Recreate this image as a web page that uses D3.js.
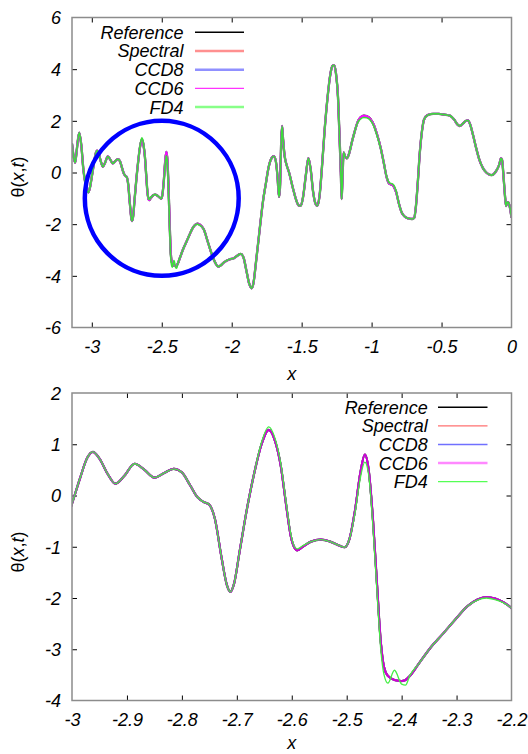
<!DOCTYPE html>
<html>
<head>
<meta charset="utf-8">
<script src="https://cdn.jsdelivr.net/npm/d3@7"></script>
<style>
  body { margin: 0; background: #fff; }
  svg { display: block; font-family: "Liberation Sans", Arial, sans-serif; }
  .tick text { font-style: italic; font-size: 18px; fill: #000; }
  .tick line { stroke: #000; stroke-width: 1; }
</style>
</head>
<body>
<svg id="chart" width="528" height="754"></svg>
<script>
const xValues = [
  -3.1416, -3.130, -3.119, -3.108, -3.090, -3.075, -3.060, -3.045, -3.025, -3.012,
  -3.000, -2.985, -2.972, -2.962, -2.950, -2.935, -2.921, -2.905, -2.886, -2.868,
  -2.850, -2.832, -2.815, -2.800, -2.785, -2.772, -2.760, -2.751, -2.740, -2.728,
  -2.718, -2.712, -2.705, -2.695, -2.681, -2.668, -2.655, -2.642, -2.630, -2.620,
  -2.610, -2.602, -2.595, -2.590, -2.580, -2.565, -2.547, -2.530, -2.515, -2.504,
  -2.495, -2.485, -2.475, -2.467, -2.460, -2.452, -2.445, -2.438, -2.432, -2.425,
  -2.413, -2.400, -2.393, -2.385, -2.370, -2.346, -2.325, -2.304, -2.279, -2.262,
  -2.246, -2.230, -2.215, -2.200, -2.170, -2.140, -2.115, -2.097, -2.080, -2.060,
  -2.037, -2.010, -1.989, -1.960, -1.935, -1.915, -1.895, -1.875, -1.858, -1.845,
  -1.825, -1.800, -1.775, -1.755, -1.740, -1.720, -1.699, -1.685, -1.672, -1.662,
  -1.655, -1.646, -1.640, -1.633, -1.622, -1.608, -1.590, -1.565, -1.540, -1.520,
  -1.506, -1.490, -1.470, -1.452, -1.435, -1.418, -1.400, -1.388, -1.372, -1.355,
  -1.335, -1.315, -1.295, -1.280, -1.268, -1.255, -1.240, -1.228, -1.220, -1.214,
  -1.208, -1.200, -1.190, -1.177, -1.160, -1.140, -1.120, -1.100, -1.080, -1.055,
  -1.035, -1.010, -0.985, -0.960, -0.935, -0.912, -0.894, -0.875, -0.847, -0.825,
  -0.805, -0.785, -0.760, -0.735, -0.710, -0.695, -0.683, -0.670, -0.655, -0.640,
  -0.625, -0.600, -0.560, -0.520, -0.480, -0.440, -0.410, -0.385, -0.370, -0.350,
  -0.325, -0.311, -0.295, -0.275, -0.255, -0.230, -0.205, -0.180, -0.160, -0.144,
  -0.125, -0.105, -0.088, -0.075, -0.068, -0.055, -0.045, -0.038, -0.030, -0.024,
  -0.016, -0.008, 0.000
];

const referenceValues = [
  1.12, 0.62, 0.38, 0.85, 1.54, 1.05, 0.10, -0.45, -0.77, -0.55,
  -0.16, 0.35, 0.74, 0.85, 0.72, 0.42, 0.23, 0.38, 0.62, 0.50,
  0.35, 0.44, 0.52, 0.45, 0.20, -0.03, -0.13, -0.17, -0.45, -1.20,
  -1.75, -1.88, -1.72, -1.10, -0.23, 0.45, 1.00, 1.28, 1.05, 0.58,
  -0.20, -0.78, -1.02, -1.07, -1.00, -0.90, -0.86, -0.90, -0.97, -1.01,
  -0.85, -0.30, 0.45, 0.80, 0.50, -0.50, -1.70, -2.85, -3.35, -3.52,
  -3.60, -3.62, -3.60, -3.52, -3.30, -2.95, -2.70, -2.44, -2.15, -2.03,
  -1.98, -2.01, -2.08, -2.20, -2.70, -3.20, -3.52, -3.64, -3.60, -3.50,
  -3.42, -3.35, -3.33, -3.22, -3.15, -3.30, -3.80, -4.30, -4.48, -4.30,
  -3.40, -2.20, -1.06, -0.40, 0.10, 0.50, 0.63, 0.45, -0.20, -0.95,
  -0.60, 1.20, 1.80, 1.30, 0.65, 0.30, 0.00, -0.55, -1.05, -1.28,
  -1.28, -0.95, -0.10, 0.56, 0.10, -0.75, -1.22, -1.29, -0.90, 0.20,
  1.70, 2.90, 3.80, 4.12, 4.16, 3.85, 2.90, 1.20, 0.00, -1.03,
  -0.20, 0.78, 0.62, 0.55, 0.75, 1.20, 1.60, 1.95, 2.13, 2.20,
  2.18, 2.08, 1.85, 1.45, 0.95, 0.35, -0.15, -0.42, -0.50, -0.75,
  -1.20, -1.55, -1.72, -1.78, -1.80, -1.75, -1.30, -0.40, 0.80, 1.60,
  2.05, 2.22, 2.27, 2.27, 2.24, 2.20, 2.05, 1.85, 1.80, 1.88,
  2.00, 2.02, 1.85, 1.45, 1.00, 0.50, 0.18, 0.00, -0.08, -0.10,
  -0.05, 0.10, 0.30, 0.55, 0.50, -0.30, -1.00, -1.30, -1.15, -1.15,
  -1.25, -1.45, -1.75
];

// Spectral, CCD8 and CCD6 lie on the reference curve at this resolution
const spectralValues = referenceValues;
const ccd8Values = referenceValues;
const ccd6Values = referenceValues;

const fd4Values = [
  1.12, 0.62, 0.38, 0.85, 1.54, 1.05, 0.10, -0.45, -0.77, -0.55,
  -0.16, 0.35, 0.74, 0.85, 0.72, 0.42, 0.23, 0.38, 0.62, 0.50,
  0.35, 0.44, 0.52, 0.45, 0.20, -0.03, -0.13, -0.17, -0.45, -1.20,
  -1.75, -1.88, -1.72, -1.10, -0.23, 0.45, 1.04, 1.34, 1.10, 0.62,
  -0.15, -0.74, -1.00, -1.04, -0.98, -0.90, -0.86, -0.90, -0.97, -1.01,
  -0.85, -0.35, 0.35, 0.65, 0.40, -0.65, -1.85, -3.00, -3.50, -3.66,
  -3.41, -3.68, -3.70, -3.51, -3.30, -2.95, -2.70, -2.44, -2.15, -2.04,
  -2.00, -2.03, -2.09, -2.20, -2.70, -3.20, -3.52, -3.64, -3.60, -3.50,
  -3.42, -3.35, -3.33, -3.22, -3.15, -3.30, -3.80, -4.30, -4.48, -4.30,
  -3.40, -2.20, -1.06, -0.40, 0.10, 0.50, 0.63, 0.45, -0.20, -0.95,
  -0.60, 1.20, 1.80, 1.30, 0.65, 0.30, 0.00, -0.55, -1.05, -1.28,
  -1.28, -0.95, -0.10, 0.56, 0.10, -0.75, -1.22, -1.29, -0.90, 0.20,
  1.70, 2.90, 3.80, 4.12, 4.16, 3.85, 2.90, 1.20, 0.00, -1.03,
  -0.20, 0.78, 0.62, 0.55, 0.75, 1.20, 1.60, 1.93, 2.07, 2.13,
  2.12, 2.03, 1.81, 1.42, 0.93, 0.35, -0.13, -0.39, -0.46, -0.72,
  -1.20, -1.55, -1.72, -1.78, -1.80, -1.75, -1.30, -0.40, 0.80, 1.60,
  2.05, 2.22, 2.27, 2.27, 2.24, 2.20, 2.05, 1.85, 1.80, 1.88,
  2.00, 2.02, 1.85, 1.45, 1.00, 0.50, 0.18, 0.00, -0.08, -0.10,
  -0.05, 0.10, 0.30, 0.55, 0.50, -0.30, -1.00, -1.30, -1.15, -1.15,
  -1.25, -1.45, -1.75
];

const seriesNames = ['Reference', 'Spectral', 'CCD8', 'CCD6', 'FD4'];
const seriesValues = [referenceValues, spectralValues, ccd8Values, ccd6Values, fd4Values];

// Tick values
const topXTicks = [-3, -2.5, -2, -1.5, -1, -0.5, 0];
const topYTicks = [-6, -4, -2, 0, 2, 4, 6];
const bottomXTicks = [-3, -2.9, -2.8, -2.7, -2.6, -2.5, -2.4, -2.3, -2.2];
const bottomYTicks = [-4, -3, -2, -1, 0, 1, 2];

// Highlighted region (ellipse in data units) on the top panel
const zoomRegion = { cx: -2.5, cy: -1, rx: 0.55, ry: 3 };

const svg = d3.select('#chart');

// Panel setup: geometry, domains and line styles per panel
const panels = [
  {
    id: 'top', left: 72, right: 511.5, top: 17.5, bottom: 327.5,
    xDomain: [-Math.PI, 0], yDomain: [-6, 6],
    xTicks: topXTicks, yTicks: topYTicks,
    labelY: 177, xLabelY: 380,
    curveStyles: [
      { color: '#000', width: 2.3 },
      { color: '#ff8080', width: 2.0 },
      { color: '#8080ff', width: 2.0 },
      { color: '#ff00ff', width: 1.9 },
      { color: '#3cdc3c', width: 1.7 }
    ],
    legendStyles: [
      { color: '#000', width: 1.5 },
      { color: '#ff9090', width: 2.5 },
      { color: '#9090ff', width: 2.5 },
      { color: '#ff33ff', width: 1.3 },
      { color: '#88ff88', width: 2.5 }
    ],
    legend: { textRight: 183.5, lineX1: 195, lineX2: 244, y0: 32.3, dy: 18.7 }
  },
  {
    id: 'bottom', left: 72, right: 511.5, top: 393, bottom: 700.5,
    xDomain: [-3, -2.2], yDomain: [-4, 2],
    xTicks: bottomXTicks, yTicks: bottomYTicks,
    labelY: 552, xLabelY: 749,
    curveStyles: [
      { color: '#000', width: 2.2 },
      { color: '#ff6060', width: 2.0 },
      { color: '#6060ff', width: 2.0 },
      { color: '#d000d0', width: 2.0 },
      { color: '#44ee44', width: 1.3 }
    ],
    legendStyles: [
      { color: '#000', width: 1.5 },
      { color: '#ff7070', width: 1.3 },
      { color: '#7070ff', width: 1.3 },
      { color: '#ff88ff', width: 2.5 },
      { color: '#55ff55', width: 1.3 }
    ],
    legend: { textRight: 427.7, lineX1: 438, lineX2: 487.5, y0: 407.3, dy: 18.6 }
  }
];

const fmt = d => (d === 0 ? '0' : String(+d.toFixed(2)));

panels.forEach(p => {
  const x = d3.scaleLinear().domain(p.xDomain).range([p.left, p.right]);
  const y = d3.scaleLinear().domain(p.yDomain).range([p.bottom, p.top]);

  svg.append('clipPath').attr('id', 'clip-' + p.id)
    .append('rect')
    .attr('x', p.left).attr('y', p.top)
    .attr('width', p.right - p.left).attr('height', p.bottom - p.top);

  // Axes with inward ticks on all four sides
  const axisB = d3.axisBottom(x).tickValues(p.xTicks).tickSize(-5).tickPadding(13).tickFormat(fmt);
  const axisT = d3.axisTop(x).tickValues(p.xTicks).tickSize(-5).tickFormat('');
  const axisL = d3.axisLeft(y).tickValues(p.yTicks).tickSize(-5).tickPadding(11).tickFormat(fmt);
  const axisR = d3.axisRight(y).tickValues(p.yTicks).tickSize(-5).tickFormat('');

  const gB = svg.append('g').attr('transform', `translate(0,${p.bottom})`).call(axisB);
  const gT = svg.append('g').attr('transform', `translate(0,${p.top})`).call(axisT);
  const gL = svg.append('g').attr('transform', `translate(${p.left},0)`).call(axisL);
  const gR = svg.append('g').attr('transform', `translate(${p.right},0)`).call(axisR);
  [gB, gT, gL, gR].forEach(g => g.select('.domain').remove());

  // no tick marks on the frame corners
  [gB, gT].forEach(g => {
    g.selectAll('.tick').filter(d => d === p.xDomain[0] || d === p.xDomain[1])
      .select('line').attr('opacity', 0);
  });
  [gL, gR].forEach(g => {
    g.selectAll('.tick').filter(d => d === p.yDomain[0] || d === p.yDomain[1])
      .select('line').attr('opacity', 0);
  });
  gL.selectAll('.tick text').attr('dy', '0.36em');

  // Curves, reference first so the others draw over it
  const line = d3.line()
    .x((d, i) => x(xValues[i]))
    .y(d => y(d))
    .curve(d3.curveMonotoneX);

  const curves = svg.append('g').attr('clip-path', `url(#clip-${p.id})`);
  seriesValues.forEach((vals, k) => {
    curves.append('path')
      .datum(vals)
      .attr('d', line)
      .attr('fill', 'none')
      .attr('stroke', p.curveStyles[k].color)
      .attr('stroke-width', p.curveStyles[k].width)
      .attr('stroke-linejoin', 'round');
  });

  // Frame
  svg.append('rect')
    .attr('x', p.left).attr('y', p.top)
    .attr('width', p.right - p.left).attr('height', p.bottom - p.top)
    .attr('fill', 'none')
    .attr('stroke', '#8c8c8c')
    .attr('stroke-width', 1.5);

  // Legend
  const lg = svg.append('g');
  seriesNames.forEach((name, k) => {
    const ly = p.legend.y0 + k * p.legend.dy;
    lg.append('text')
      .attr('x', p.legend.textRight)
      .attr('y', ly)
      .attr('dy', '0.36em')
      .attr('text-anchor', 'end')
      .style('font-size', '18px')
      .style('font-style', 'italic')
      .text(name);
    lg.append('line')
      .attr('x1', p.legend.lineX1).attr('x2', p.legend.lineX2)
      .attr('y1', ly).attr('y2', ly)
      .attr('stroke', p.legendStyles[k].color)
      .attr('stroke-width', p.legendStyles[k].width);
  });

  // Axis titles
  const yl = svg.append('text')
    .attr('transform', `translate(24,${p.labelY}) rotate(-90)`)
    .attr('text-anchor', 'middle')
    .style('font-size', '18px');
  yl.append('tspan').text('\u03b8(');
  yl.append('tspan').style('font-style', 'italic').text('x');
  yl.append('tspan').text(',');
  yl.append('tspan').style('font-style', 'italic').text('t');
  yl.append('tspan').text(')');

  svg.append('text')
    .attr('x', (p.left + p.right) / 2)
    .attr('y', p.xLabelY)
    .attr('text-anchor', 'middle')
    .style('font-size', '18px')
    .style('font-style', 'italic')
    .text('x');

  // Blue ellipse marking the zoomed region
  if (p.id === 'top') {
    svg.append('ellipse')
      .attr('cx', x(zoomRegion.cx))
      .attr('cy', y(zoomRegion.cy))
      .attr('rx', x(zoomRegion.cx + zoomRegion.rx) - x(zoomRegion.cx))
      .attr('ry', y(zoomRegion.cy) - y(zoomRegion.cy + zoomRegion.ry))
      .attr('fill', 'none')
      .attr('stroke', '#0000ff')
      .attr('stroke-width', 4.5);
  }
});
</script>
</body>
</html>
